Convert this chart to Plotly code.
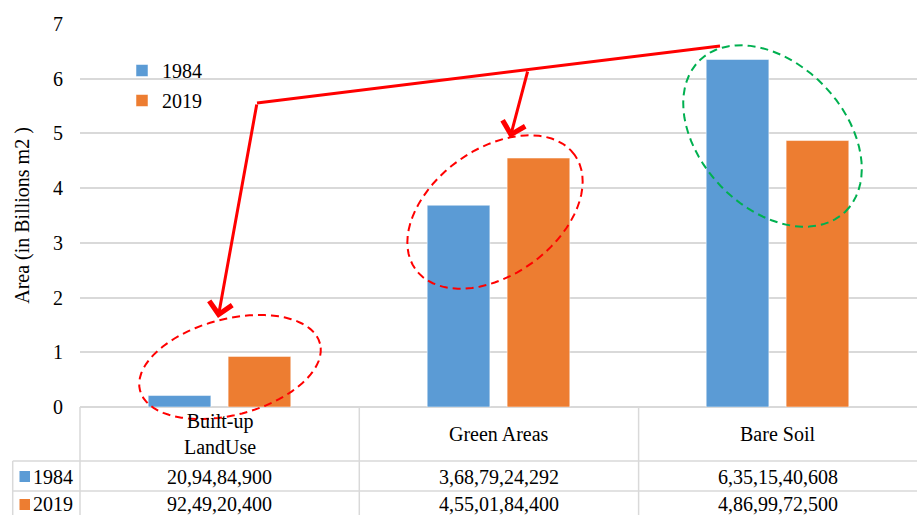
import math
import plotly.graph_objects as go

# ---------------- data ----------------
categories = ["Built-up<br>LandUse", "Green Areas", "Bare Soil"]
years = ["1984", "2019"]
area_1984_m2 = [209484900, 3687924292, 6351540608]
area_2019_m2 = [924920400, 4550184400, 4869972500]
y_ticks = [0, 1, 2, 3, 4, 5, 6, 7]

colors = {"1984": "#5B9BD5", "2019": "#ED7D31"}
FONT = "Liberation Serif"
GRID = "#D9D9D9"


def indian_format(n):
    s = str(int(n))
    last3, rest = s[-3:], s[:-3]
    groups = []
    while len(rest) > 2:
        groups.insert(0, rest[-2:])
        rest = rest[:-2]
    if rest:
        groups.insert(0, rest)
    return ",".join(groups + [last3])


# ---------------- geometry helpers (pixel -> paper) ----------------
W, H = 917, 515
L, R, T, B = 80, 0, 24, 108
PW, PH = W - L - R, H - T - B


def px(x):
    return (x - L) / PW


def py(y):
    return (H - B - y) / PH


def ellipse_path(cx, cy, a, b, deg, n=72):
    th = math.radians(deg)
    pts = []
    for i in range(n + 1):
        t = 2 * math.pi * i / n
        xm = a * math.cos(th) * math.cos(t) - b * math.sin(th) * math.sin(t)
        ym = a * math.sin(th) * math.cos(t) + b * math.cos(th) * math.sin(t)
        pts.append((px(cx + xm), py(cy - ym)))
    d = "M %.5f,%.5f " % pts[0] + " ".join("L %.5f,%.5f" % p for p in pts[1:]) + " Z"
    return d


fig = go.Figure()
vals = {"1984": area_1984_m2, "2019": area_2019_m2}
for i, yr in enumerate(years):
    fig.add_trace(go.Bar(
        x=categories, y=[v / 1e9 for v in vals[yr]], name=yr,
        marker=dict(color=colors[yr], line=dict(color="rgba(255,255,255,0.5)", width=1)),
        legendgroup=yr,
    ))

shapes = []
annotations = []
txt_font = dict(family=FONT, size=20, color="#000")

# table lines
line = dict(color=GRID, width=1.5)
for yy in [461, 491]:
    shapes.append(dict(type="line", xref="paper", yref="paper", x0=px(12.7), x1=1,
                       y0=py(yy), y1=py(yy), line=line))
for xx in [80, 359.3, 638.6]:
    shapes.append(dict(type="line", xref="paper", yref="paper", x0=px(xx), x1=px(xx),
                       y0=py(407), y1=py(520), line=line))
shapes.append(dict(type="line", xref="paper", yref="paper", x0=px(12.7), x1=px(12.7),
                   y0=py(461), y1=py(520), line=line))

# table text
for c in categories:
    annotations.append(dict(x=c, xref="x", y=py(434), yref="paper", text=c, showarrow=False,
                            xanchor="center", yanchor="middle", font=txt_font))
row_y = {"1984": 476.5, "2019": 504.5}
for yr in years:
    for c, v in zip(categories, vals[yr]):
        annotations.append(dict(x=c, xref="x", y=py(row_y[yr]), yref="paper",
                                text=indian_format(v), showarrow=False,
                                xanchor="center", yanchor="middle", font=txt_font))
    shapes.append(dict(type="rect", xref="paper", yref="paper", x0=px(19.5), x1=px(30),
                       y0=py(row_y[yr] - 5.5), y1=py(row_y[yr] + 5.5),
                       fillcolor=colors[yr], line=dict(width=0)))
    annotations.append(dict(x=px(31), xref="paper", y=py(row_y[yr]), yref="paper", text=yr,
                            xanchor="left", yanchor="middle", showarrow=False, font=txt_font))

# ellipses
shapes.append(dict(type="path", xref="paper", yref="paper",
                   path=ellipse_path(230, 367, 93, 48, 14.6),
                   line=dict(color="#FF0000", width=2, dash="8px,5px")))
shapes.append(dict(type="path", xref="paper", yref="paper",
                   path=ellipse_path(495, 212, 98, 63, 35.7),
                   line=dict(color="#FF0000", width=2, dash="8px,5px")))
shapes.append(dict(type="path", xref="paper", yref="paper",
                   path=ellipse_path(772.5, 136, 105, 72, -46.3),
                   line=dict(color="#00B050", width=2, dash="8px,5px")))

# arrows
shapes.append(dict(type="line", xref="paper", yref="paper", x0=px(720), y0=py(46),
                   x1=px(257), y1=py(103), line=dict(color="#FF0000", width=3)))
for tip, tail in [((218, 318), (257, 103)), ((510, 138), (528, 70))]:
    annotations.append(dict(x=px(tip[0]), y=py(tip[1]), xref="paper", yref="paper",
                            ax=tail[0] - tip[0], ay=tail[1] - tip[1], text="",
                            showarrow=True, arrowhead=4, arrowsize=1.5, arrowwidth=3,
                            arrowcolor="#FF0000", standoff=0))

fig.update_layout(
    width=W, height=H,
    margin=dict(l=L, r=R, t=T, b=B),
    paper_bgcolor="white", plot_bgcolor="white",
    font=dict(family=FONT, size=20, color="#000"),
    barmode="group", bargap=0.427, bargroupgap=0.216,
    showlegend=True,
    legend=dict(x=px(122), y=py(51), xanchor="left", yanchor="top",
                bgcolor="rgba(0,0,0,0)", font=dict(family=FONT, size=20),
                tracegroupgap=1, itemwidth=30),
    xaxis=dict(showticklabels=False, showgrid=False, showline=False, ticks="",
               range=[-0.5, 2.5]),
    yaxis=dict(range=[0, 7], tickvals=y_ticks, showgrid=True, gridcolor=GRID, gridwidth=1.5,
               zeroline=True, zerolinecolor=GRID, zerolinewidth=1.5, showline=False,
               ticks="", ticklabelstandoff=16,
               tickfont=dict(family=FONT, size=20, color="#000"),
               title=dict(text="Area (in Billions m2 )", standoff=18,
                          font=dict(family=FONT, size=20, color="#000"))),
    shapes=shapes, annotations=annotations,
)

fig.write_html("out.html", config={"displayModeBar": False},
               post_script="document.body.style.margin='0px';document.body.style.overflow='hidden';")
